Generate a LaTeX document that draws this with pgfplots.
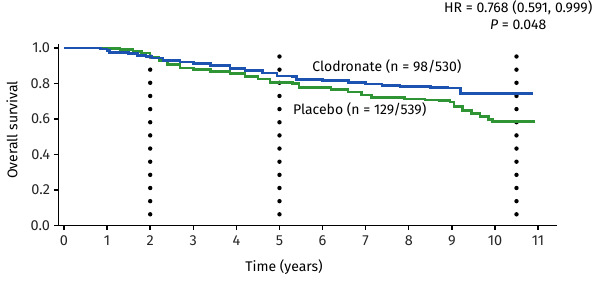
\documentclass[border=0pt]{standalone}
\usepackage{fontspec}
\setmainfont{Fira Sans}
\usepackage{pgfplots}
\pgfplotsset{compat=1.18}
\definecolor{cblue}{RGB}{28,82,176}
\definecolor{cgreen}{RGB}{46,148,52}
\begin{document}
\fontsize{14}{16}\selectfont
\begin{tikzpicture}
\path[use as bounding box] (-58.4pt,-55.5pt) rectangle (541.6pt,225.5pt);
\begin{axis}[
  at={(0pt,0pt)}, anchor=south west,
  scale only axis, width=498.6pt, height=181.25pt,
  xmin=-0.13, xmax=11.44, ymin=0, ymax=1.02,
  axis x line=bottom, axis y line=left,
  axis line style={black, line width=1.6pt, -},
  xtick={0,1,...,11}, ytick={0,0.2,...,1.0},
  tick align=outside, major tick length=4.5pt,
  tick style={black, line width=1.4pt},
  yticklabel style={xshift=1pt, /pgf/number format/.cd, fixed, fixed zerofill, precision=1},
  /pgf/number format/assume math mode=true,
  ticklabel style={font=\fontsize{14.5}{16}\selectfont, text=black!85},
  xticklabel style={yshift=-1pt},
  clip=false,
]
% Dotted reference lines
\addplot[black, line width=4.4pt, line cap=round, dash pattern=on 0pt off 13.15pt] coordinates {(2,0.063) (2,1.025)};
\addplot[black, line width=4.4pt, line cap=round, dash pattern=on 0pt off 13.15pt] coordinates {(5,0.063) (5,1.025)};
\addplot[black, line width=4.4pt, line cap=round, dash pattern=on 0pt off 13.15pt] coordinates {(10.5,0.063) (10.5,1.025)};
% Placebo
\addplot[cgreen, line width=2.6pt, const plot] coordinates {
(0,1.0) (0.8,1.0) (1.0,0.995) (1.3,0.99) (1.6,0.98) (1.8,0.97) (2.0,0.948) (2.2,0.93) (2.4,0.905) (2.69,0.887) (3.0,0.878) (3.4,0.868) (3.85,0.854) (4.2,0.84) (4.5,0.825) (4.78,0.805) (5.3,0.80) (5.45,0.775) (6.2,0.765) (6.59,0.752) (6.9,0.735) (7.14,0.72) (7.9,0.713) (8.38,0.707) (8.7,0.704) (8.96,0.694) (9.05,0.671) (9.25,0.647) (9.45,0.629) (9.65,0.615) (9.85,0.595) (9.95,0.585) (10.93,0.585)};
% Clodronate
\addplot[cblue, line width=2.6pt, const plot] coordinates {
(0,1.0) (0.8,1.0) (0.85,0.993) (1.0,0.985) (1.05,0.975) (1.5,0.968) (1.7,0.958) (1.9,0.95) (2.04,0.942) (2.3,0.93) (2.69,0.919) (3.0,0.913) (3.4,0.902) (3.85,0.885) (4.2,0.872) (4.6,0.858) (4.94,0.842) (5.3,0.838) (5.4,0.823) (6.0,0.815) (6.6,0.806) (7.0,0.797) (7.38,0.788) (7.8,0.782) (8.5,0.778) (8.9,0.773) (9.2,0.743) (10.88,0.743)};
% Annotations
\node[anchor=west, inner sep=0pt] at (axis cs:5.76,0.892) {Clodronate (n = 98/530)};
\node[anchor=west, inner sep=0pt] at (axis cs:5.31,0.65) {Placebo (n = 129/539)};
\node[inner sep=0pt] at (axis cs:10.54,1.224) {HR = 0.768 (0.591, 0.999)};
\node[inner sep=0pt] at (axis cs:10.54,1.128) {\textit{P} = 0.048};
\node[inner sep=0pt] at (axis cs:5.105,-0.234) {Time (years)};
\node[inner sep=0pt, rotate=90] at (axis cs:-1.207,0.537) {Overall survival};
\end{axis}
\end{tikzpicture}
\end{document}
